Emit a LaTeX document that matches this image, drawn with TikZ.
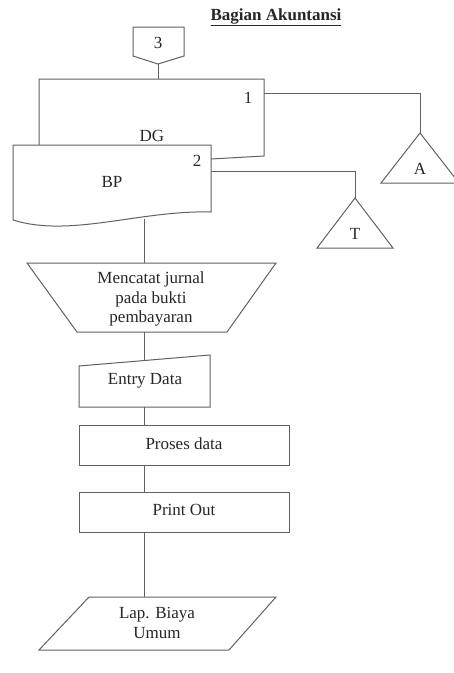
\documentclass[tikz,border=0pt]{standalone}
\usepackage{fontspec}
\setmainfont{Liberation Serif}
\begin{document}
\begin{tikzpicture}[x=1pt,y=-1pt,
  outline/.style={draw=black!62, line width=1pt, line join=miter},
  link/.style={draw=black!62, line width=1pt},
  txt/.style={inner sep=0pt, text=black!85, align=center,
              font=\fontsize{17}{19.5}\selectfont},
]
\clip (0,0) rectangle (454,673);

% heading
\node[txt, font=\fontsize{17}{19.5}\selectfont\bfseries] (title) at (276,17)
  {\underline{Bagian Akuntansi}};

% off-page connector 3
\draw[outline] (133,27) -- (184,27) -- (184,56) -- (158,64) -- (133,56) -- cycle;
\coordinate (c3tip) at (158,64);
\node[txt] (c3) at (158,43) {3};

% document DG (behind), copy 1
\draw[outline] (39,145) -- (39,79) -- (264,79) -- (264,156) -- (211,159);
\coordinate (dgtop) at (158,79);
\coordinate (dgright) at (264,93);
\node[txt] (n1) at (248,98) {1};
\node[txt] (dg) at (152,136) {DG};

% document BP (front), copy 2
\draw[outline, fill=white] (13,220) -- (13,145) -- (211,145) -- (211,212)
  .. controls (140,210) and (70,238) .. (13,220);
\coordinate (bpright) at (211,171);
\coordinate (bpbottom) at (144,219);
\node[txt] (n2) at (197,161) {2};
\node[txt] (bp) at (112,182) {BP};

% file A
\draw[outline] (420,133) -- (459,183) -- (381,183) -- cycle;
\coordinate (aapex) at (420,133);
\node[txt] (a) at (420,169) {A};

% file T
\draw[outline] (355,198) -- (393,248) -- (317,248) -- cycle;
\coordinate (tapex) at (355,198);
\node[txt] (t) at (355,234) {T};

% manual operation
\draw[outline] (27,263) -- (276,263) -- (227,332) -- (77,332) -- cycle;
\coordinate (mtop) at (144,263);
\coordinate (mbot) at (144,332);
\node[txt] (mencatat) at (151,299) {Mencatat jurnal\\pada bukti\\pembayaran};

% manual input
\draw[outline] (79,366) -- (210,355) -- (210,407) -- (79,407) -- cycle;
\coordinate (etop) at (144,360.5);
\coordinate (ebot) at (144,407);
\node[txt] (entry) at (145,381) {Entry Data};

% process
\draw[outline] (79,425) rectangle (289,465);
\coordinate (ptop) at (144,425);
\coordinate (pbot) at (144,465);
\node[txt] (proses) at (184,444) {Proses data};

% print
\draw[outline] (79,492) rectangle (289,532);
\coordinate (otop) at (144,492);
\coordinate (obot) at (144,532);
\node[txt] (print) at (184,510) {Print Out};

% report (input/output)
\draw[outline] (89,597) -- (276,597) -- (229,650) -- (39,650) -- cycle;
\coordinate (rtop) at (144,597);
\node[txt] (lap) at (157,623) {Lap. Biaya\\Umum};

% connectors
\draw[link] (c3tip) -- (dgtop);
\draw[link] (dgright) -| (aapex);
\draw[link] (bpright) -| (tapex);
\draw[link] (bpbottom) -- (mtop);
\draw[link] (mbot) -- (etop);
\draw[link] (ebot) -- (ptop);
\draw[link] (pbot) -- (otop);
\draw[link] (obot) -- (rtop);
\end{tikzpicture}
\end{document}
